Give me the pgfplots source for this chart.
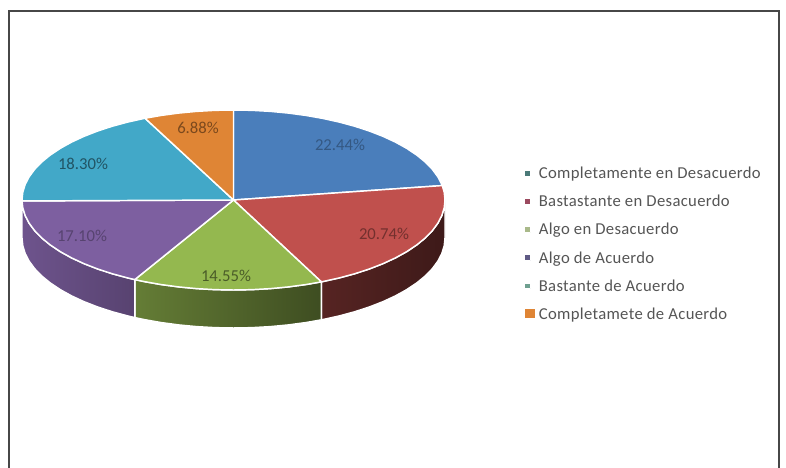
\documentclass[border=0pt]{standalone}
\usepackage{fontspec}
\setmainfont{Carlito}
\usepackage{pgfplots}
\pgfplotsset{compat=1.18}
\definecolor{cblue}{HTML}{4A7EBB}
\definecolor{cred}{HTML}{C0504D}
\definecolor{cgreen}{HTML}{94B84F}
\definecolor{cpurple}{HTML}{7D5FA0}
\definecolor{cteal}{HTML}{42A8C8}
\definecolor{corange}{HTML}{DF8535}
\definecolor{legtxt}{HTML}{555555}
\definecolor{la}{HTML}{4A7A78}
\definecolor{lb}{HTML}{9B4A5F}
\definecolor{lc}{HTML}{A9B98A}
\definecolor{ld}{HTML}{5F5A85}
\definecolor{le}{HTML}{6FA090}
\pgfplotsset{
  wedge/.style={fill=#1,draw=white,line width=1.1pt,line join=round},
  side/.style={draw=white,line width=1.1pt,line join=round,forget plot},
  lsq/.style 2 args={legend image code/.code={\fill[fill=#1] (0pt,-#2) rectangle (2*#2,#2);}},
}
\begin{document}
\begin{tikzpicture}
\path[use as bounding box] (0,0) rectangle (589.5pt,351pt);
\begin{axis}[
  scale only axis, width=589.5pt, height=351pt,
  xmin=-1.10402, xmax=2.61229, ymin=-2.97778, ymax=2.22222,
  hide axis,
  legend style={
    at={(524/786,1-163.5/468)}, anchor=north west, draw=none, fill=none,
    font=\fontsize{12.5}{15}\selectfont\addfontfeature{LetterSpace=2}\color{legtxt},
    cells={anchor=west,text height=9.5pt,text depth=3.5pt}, row sep=6.05pt, inner sep=0pt, outer sep=0pt,
    /tikz/every even column/.append style={column sep=0pt},
  },
]
% side walls
\addplot[side,left color=cred!45!black,right color=cred!32!black] coordinates {
(1,0)(.9962,-.0872)(.9848,-.1736)(.9659,-.2588)(.9397,-.3420)(.9063,-.4226)(.8660,-.5)(.8192,-.5736)(.7660,-.6428)(.7071,-.7071)(.6428,-.7660)(.5736,-.8192)(.5,-.8660)(.4226,-.9063)(.4155,-.9096)
(.4155,-1.3318)(.4226,-1.3285)(.5,-1.2882)(.5736,-1.2414)(.6428,-1.1882)(.7071,-1.1293)(.7660,-1.0650)(.8192,-.9958)(.8660,-.9222)(.9063,-.8448)(.9397,-.7642)(.9659,-.6810)(.9848,-.5958)(.9962,-.5094)(1,-.4222)} -- cycle;
\addplot[side,left color=cgreen!68!black,right color=cgreen!42!black] coordinates {
(.4155,-.9096)(.3420,-.9397)(.2588,-.9659)(.1736,-.9848)(.0872,-.9962)(0,-1)(-.0872,-.9962)(-.1736,-.9848)(-.2588,-.9659)(-.3420,-.9397)(-.4226,-.9063)(-.4668,-.8844)
(-.4668,-1.3066)(-.4226,-1.3285)(-.3420,-1.3619)(-.2588,-1.3881)(-.1736,-1.4070)(-.0872,-1.4184)(0,-1.4222)(.0872,-1.4184)(.1736,-1.4070)(.2588,-1.3881)(.3420,-1.3619)(.4155,-1.3318)} -- cycle;
\addplot[side,left color=cpurple!88!black,right color=cpurple!70!black] coordinates {
(-.4668,-.8844)(-.5,-.8660)(-.5736,-.8192)(-.6428,-.7660)(-.7071,-.7071)(-.7660,-.6428)(-.8192,-.5736)(-.8660,-.5)(-.9063,-.4226)(-.9397,-.3420)(-.9659,-.2588)(-.9848,-.1736)(-.9962,-.0872)(-1,0)
(-1,-.4222)(-.9962,-.5094)(-.9848,-.5958)(-.9659,-.6810)(-.9397,-.7642)(-.9063,-.8448)(-.8660,-.9222)(-.8192,-.9958)(-.7660,-1.0650)(-.7071,-1.1293)(-.6428,-1.1882)(-.5736,-1.2414)(-.5,-1.2882)(-.4668,-1.3066)} -- cycle;
% top wedges
\addplot[wedge=cblue,lsq={la}{2.2pt}] coordinates {
(0,0)(0,1)(.0872,.9962)(.1736,.9848)(.2588,.9659)(.3420,.9397)(.4226,.9063)(.5,.8660)(.5736,.8192)(.6428,.7660)(.7071,.7071)(.7660,.6428)(.8192,.5736)(.8660,.5)(.9063,.4226)(.9397,.3420)(.9659,.2588)(.9848,.1736)(.9871,.1603)} -- cycle;
\addlegendentry{Completamente en Desacuerdo}
\addplot[wedge=cred,lsq={lb}{2.2pt}] coordinates {
(0,0)(.9871,.1603)(.9962,.0872)(1,0)(.9962,-.0872)(.9848,-.1736)(.9659,-.2588)(.9397,-.3420)(.9063,-.4226)(.8660,-.5)(.8192,-.5736)(.7660,-.6428)(.7071,-.7071)(.6428,-.7660)(.5736,-.8192)(.5,-.8660)(.4226,-.9063)(.4155,-.9096)} -- cycle;
\addlegendentry{Bastastante en Desacuerdo}
\addplot[wedge=cgreen,lsq={lc}{2.2pt}] coordinates {
(0,0)(.4155,-.9096)(.3420,-.9397)(.2588,-.9659)(.1736,-.9848)(.0872,-.9962)(0,-1)(-.0872,-.9962)(-.1736,-.9848)(-.2588,-.9659)(-.3420,-.9397)(-.4226,-.9063)(-.4668,-.8844)} -- cycle;
\addlegendentry{Algo en Desacuerdo}
\addplot[wedge=cpurple,lsq={ld}{2.2pt}] coordinates {
(0,0)(-.4668,-.8844)(-.5,-.8660)(-.5736,-.8192)(-.6428,-.7660)(-.7071,-.7071)(-.7660,-.6428)(-.8192,-.5736)(-.8660,-.5)(-.9063,-.4226)(-.9397,-.3420)(-.9659,-.2588)(-.9848,-.1736)(-.9962,-.0872)(-.9999,-.0107)} -- cycle;
\addlegendentry{Algo de Acuerdo}
\addplot[wedge=cteal,lsq={le}{2.2pt}] coordinates {
(0,0)(-.9999,-.0107)(-1,0)(-.9962,.0872)(-.9848,.1736)(-.9659,.2588)(-.9397,.3420)(-.9063,.4226)(-.8660,.5)(-.8192,.5736)(-.7660,.6428)(-.7071,.7071)(-.6428,.7660)(-.5736,.8192)(-.5,.8660)(-.4226,.9063)(-.4184,.9083)} -- cycle;
\addlegendentry{Bastante de Acuerdo}
\addplot[wedge=corange,lsq={corange}{4pt}] coordinates {
(0,0)(-.4184,.9083)(-.3420,.9397)(-.2588,.9659)(-.1736,.9848)(-.0872,.9962)(0,1)} -- cycle;
\addlegendentry{Completamete de Acuerdo}
\end{axis}
\begin{scope}[x=.75pt,y=-.75pt,yshift=351pt]
\draw[color=black!72,line width=1.1pt] (9,468) -- (9,11) -- (779,11) -- (779,468);
\tikzset{pl/.style={font=\fontsize{12.5}{14}\selectfont,inner sep=0pt}}
\node[pl,text=cblue!70!black] at (340,145) {22.44\%};
\node[pl,text=cred!60!black] at (384,234) {20.74\%};
\node[pl,text=cgreen!50!black] at (226,276) {14.55\%};
\node[pl,text=cpurple!70!black] at (82,236) {17.10\%};
\node[pl,text=cteal!50!black] at (83,164) {18.30\%};
\node[pl,text=corange!55!black] at (198,128) {6.88\%};
\end{scope}
\end{tikzpicture}
\end{document}
